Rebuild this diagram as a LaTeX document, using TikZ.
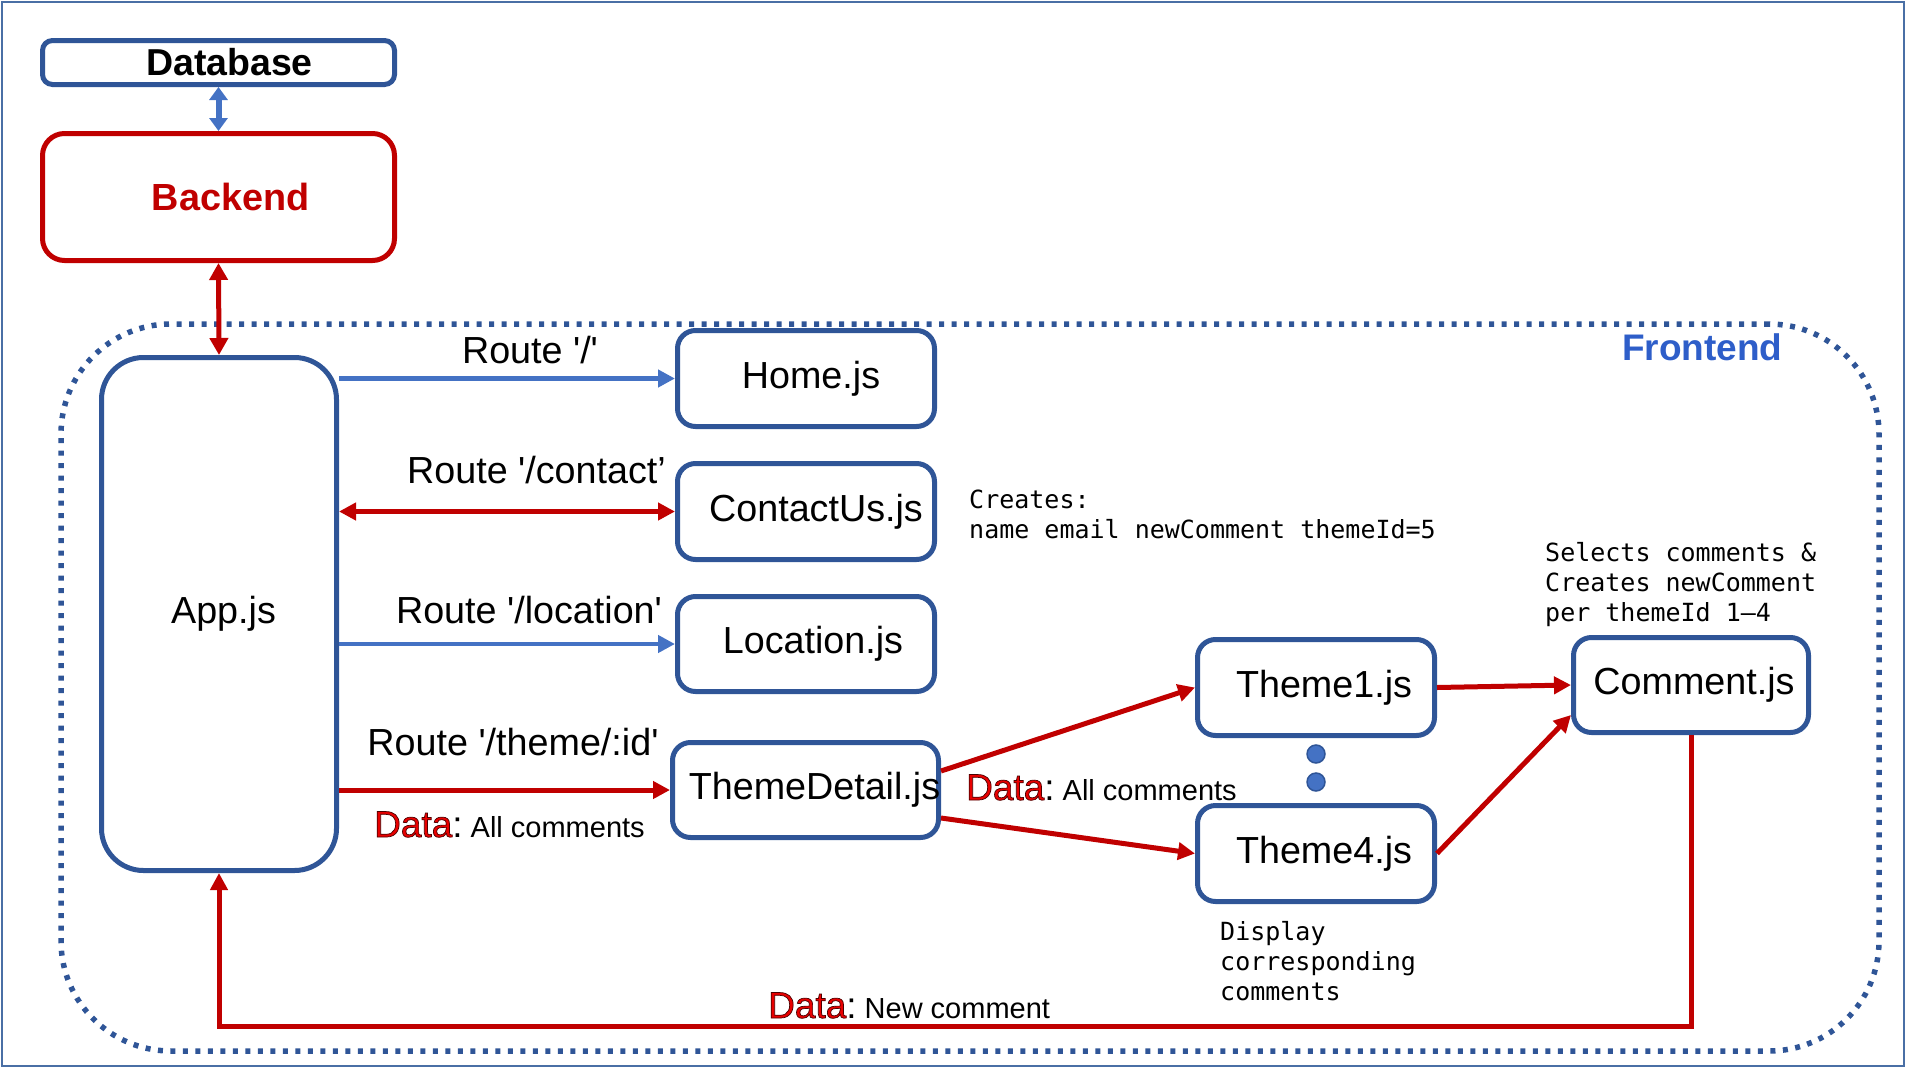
\documentclass[tikz,border=0pt]{standalone}
\usepackage{fontspec}
\setmainfont{Liberation Sans}
\newfontfamily\monof{DejaVu Sans Mono}
\usetikzlibrary{arrows.meta,calc}
\definecolor{boxblue}{HTML}{2F5597}
\definecolor{arrblue}{HTML}{4472C4}
\definecolor{myred}{HTML}{C00000}
\definecolor{datared}{HTML}{E80000}
\definecolor{fblue}{HTML}{2E5EC9}
\definecolor{framec}{HTML}{4A6FA5}
\newcommand{\dataword}{\textcolor{datared}{\special{pdf:literal direct 0.3 0 0 RG 2 Tr 0.7 w}Data\special{pdf:literal direct 0 Tr}}}
\newcommand{\shtext}[2]{\makebox[0pt][c]{\hspace*{#1}#2}}
\tikzset{
  tipr/.tip={Triangle[length=17pt,width=17pt]},
  tipdb/.tip={Triangle[length=13pt,width=18pt]},
  tipbe/.tip={Triangle[length=17pt,width=18pt]},
  bigfont/.style={font=\fontsize{37.7pt}{44pt}\selectfont},
  jsbox/.style={draw=boxblue, line width=5pt, rounded corners=18pt, inner sep=0pt,
    fill=white, bigfont, minimum width=257pt, minimum height=96pt},
  rarrow/.style={draw=myred, line width=5pt, -tipr},
  barrow/.style={draw=arrblue, line width=4.5pt, -tipr},
  routelbl/.style={bigfont, anchor=base, inner sep=0pt},
  datalbl/.style={anchor=base west, inner sep=0pt, font=\fontsize{37pt}{44pt}\selectfont},
  monolbl/.style={anchor=north west, inner sep=0pt, align=left,
    font=\monof\fontsize{25pt}{30pt}\selectfont},
  dotc/.style={circle, fill=arrblue, draw=boxblue, line width=1.5pt, minimum size=18pt, inner sep=0pt},
}
\begin{document}
\begin{tikzpicture}[x=1pt,y=-1pt]
\useasboundingbox (0,0) rectangle (1906,1068);
\draw[framec, line width=2pt] (2,2) rectangle (1904,1066);

% frontend region
\node[draw=boxblue, line width=5.5pt, dash pattern=on 5pt off 7.5pt, rounded corners=110pt,
  minimum width=1818pt, minimum height=727pt, inner sep=0pt] (front) at (970,687.5) {};
\node[anchor=base west, inner sep=0pt, text=fblue, font=\fontsize{37pt}{44pt}\selectfont\bfseries]
  (frontlbl) at (1622,360) {Frontend};

% boxes
\node[jsbox, rounded corners=10pt, minimum width=352pt, minimum height=44pt, font=\fontsize{37.5pt}{44pt}\selectfont\bfseries]
  (DB) at (218.5,62.5) {\shtext{22pt}{Database}};
\node[jsbox, draw=myred, rounded corners=22pt, minimum width=352pt, minimum height=127pt, text=myred,
  font=\fontsize{37.8pt}{44pt}\selectfont\bfseries] (BE) at (218.5,197) {\shtext{24pt}{Backend}};
\node[jsbox, rounded corners=42pt, minimum width=235pt, minimum height=513pt] (App) at (219,614) {\shtext{9pt}{App.js}};
\node[jsbox] (Home) at (806,378.5) {\shtext{10pt}{Home.js}};
\node[jsbox] (Contact) at (806,511.5) {\shtext{20pt}{ContactUs.js}};
\node[jsbox, minimum height=95pt] (Loc) at (806,644) {\shtext{14pt}{Location.js}};
\node[jsbox, minimum width=266pt, minimum height=95pt] (TD) at (805.5,790) {\shtext{18pt}{ThemeDetail.js}};
\node[jsbox, minimum width=237pt] (T1) at (1316,687.5) {\raisebox{4pt}{\shtext{16pt}{Theme1.js}}};
\node[jsbox, minimum width=237pt] (T4) at (1316,853.5) {\shtext{16pt}{Theme4.js}};
\node[jsbox, minimum width=235pt, minimum height=95pt] (Com) at (1691,685) {\shtext{6pt}{Comment.js}};

\node[dotc] (d1) at (1316,754) {};
\node[dotc] (d2) at (1316,782) {};

% connectors
\draw[arrblue, line width=6pt, tipdb-tipdb] (DB.south) -- (BE.north);
\draw[myred, line width=5pt, tipbe-tipbe] (BE.south) -- (App.north);
\draw[barrow] (App.east |- Home.west) -- (Home.west);
\draw[rarrow, tipr-tipr] (App.east |- Contact.west) -- (Contact.west);
\draw[barrow] (App.east |- Loc.west) -- (Loc.west);
\draw[rarrow] (App.east |- TD.west) -- (TD.west);
\draw[rarrow] ([yshift=19pt]TD.east) -- (T1.west);
\draw[rarrow] ([yshift=-28pt]TD.east) -- (T4.west);
\draw[rarrow] (T1.east) -- (Com.west);
\draw[rarrow] (T4.east) -- ([yshift=-30pt]Com.west);
\coordinate (bot) at (0,1026);
\draw[rarrow] (Com.south) -- (Com.south |- bot) -- (App.south |- bot) -- (App.south);

% route labels
\node[routelbl] (r1) at (530,363) {Route \textquotesingle/\textquotesingle};
\node[routelbl] (r2) at (536.5,483) {Route \textquotesingle/contact’};
\node[routelbl] (r3) at (529,623) {Route \textquotesingle/location\textquotesingle};
\node[routelbl] (r4) at (513,755) {Route \textquotesingle/theme/:id\textquotesingle};

% mono notes
\node[monolbl] (n1) at (969,490) {Creates:\\name email newComment themeId=5};
\node[monolbl] (n2) at (1545,542) {Selects comments \&\\Creates newComment\\per themeId 1–4};
\node[monolbl] (n3) at (1220,921) {Display\\corresponding\\comments};

% data labels
\node[datalbl] (dl1) at (374,837) {\dataword:\fontsize{29pt}{34pt}\selectfont\ All comments};
\node[datalbl] (dl2) at (966,800) {\dataword:\fontsize{29pt}{34pt}\selectfont\ All comments};
\node[datalbl] (dl3) at (768,1018) {\dataword:\fontsize{29pt}{34pt}\selectfont\ New comment};
\end{tikzpicture}
\end{document}
